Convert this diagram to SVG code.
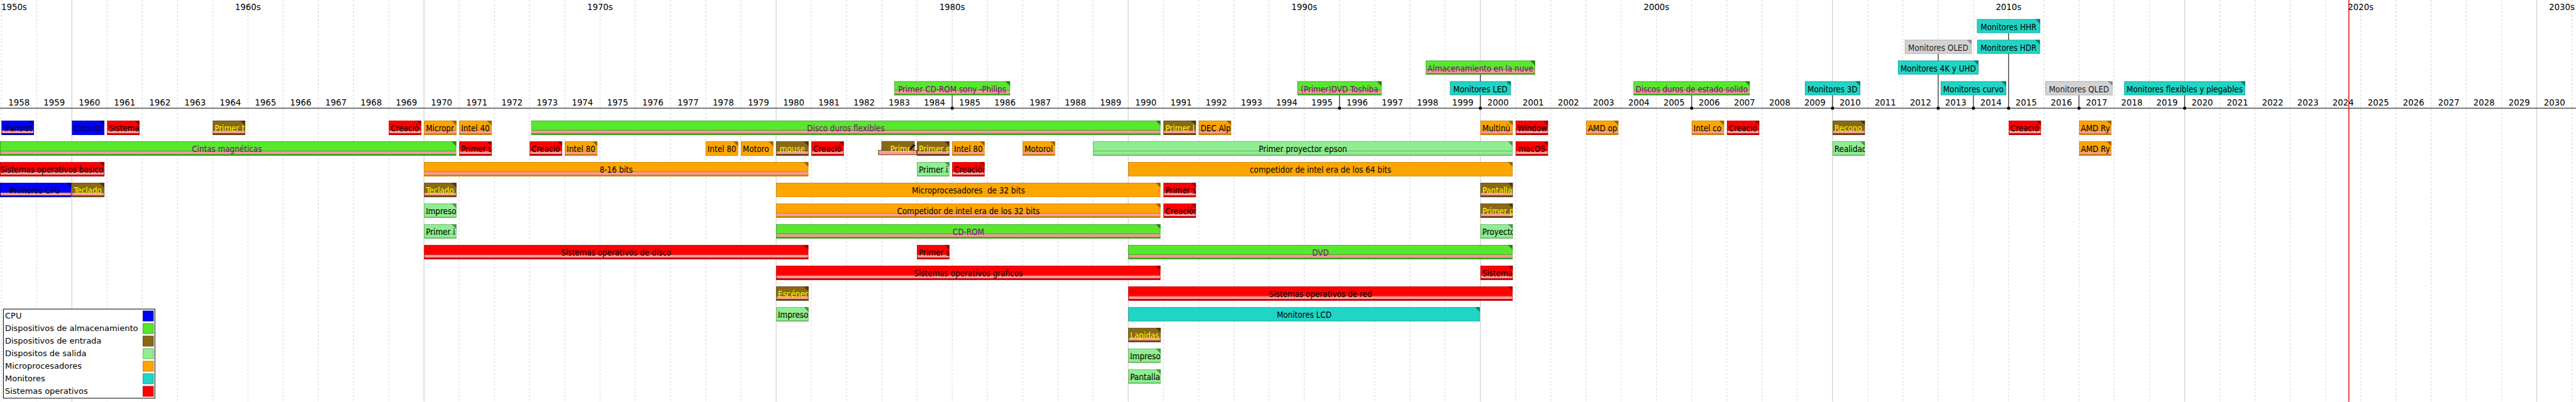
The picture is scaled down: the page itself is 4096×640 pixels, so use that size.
<svg xmlns="http://www.w3.org/2000/svg" xmlns:xlink="http://www.w3.org/1999/xlink" width="4096" height="640" viewBox="0 0 4096 640">
<style>
.cpu{--c:#0000ff;--d:#0000b0;--e:#000080;--t:#000}
.alm{--c:#57e82d;--d:#3aa322;--e:#2f7d1c;--t:#800080}
.ent{--c:#8b6914;--d:#5e4610;--e:#4a370a;--t:#ffff00}
.sal{--c:#90ee90;--d:#66b366;--e:#4f8f4f;--t:#000}
.mic{--c:#ffa500;--d:#c98200;--e:#9a6300;--t:#000}
.mon{--c:#20d5c5;--d:#15a093;--e:#0f7a70;--t:#000}
.gry{--c:#d3d3d3;--d:#a3a3a3;--e:#8a8a8a;--t:#222}
.sop{--c:#ff0000;--d:#c40000;--e:#990000;--t:#000}
.b{fill:var(--c);stroke:var(--d);stroke-width:1}
.p{fill:#ff9999}
.l{fill:none;stroke:var(--d);stroke-width:1}
.d{fill:var(--d)}
.e{fill:var(--e)}
.t{font-family:"DejaVu Sans Condensed","DejaVu Sans",sans-serif;font-size:13.33px;font-stretch:condensed;fill:var(--t)}
.m{text-anchor:middle}
.yr{font-family:"DejaVu Sans",sans-serif;font-size:13.33px;fill:#000;text-anchor:middle}
.dec{font-family:"DejaVu Sans",sans-serif;font-size:13.33px;fill:#000}
.lg{font-family:"DejaVu Sans",sans-serif;font-size:13px;fill:#000}
.minor{stroke:#d0d0d0;stroke-width:1;stroke-dasharray:3 3;fill:none}
.major{stroke:#c4c4c4;stroke-width:1;fill:none}
.cn{stroke:#000;stroke-width:1;fill:none}
.dot{fill:#000}
</style>
<defs>
<g id="u1"><rect class="b" x=".5" y=".5" width="50.7" height="22"/><rect class="p" x="1" y="15" width="49.7" height="5.3"/><path class="l" d="M1 15.5h49.7"/><rect class="d" y="20.3" width="51.7" height="2.7"/><path class="e" d="M43.7 0h8v8z"/></g>
<g id="u1n"><rect class="b" x=".5" y=".5" width="50.7" height="22"/><path class="e" d="M43.7 0h8v8z"/></g>
<g id="u1g"><rect class="b" x=".5" y=".5" width="50.7" height="22"/><path class="l" d="M1 15.5h49.7"/><rect class="d" y="21.3" width="51.7" height="1.7"/><path class="e" d="M43.7 0h8v8z"/></g>
</defs>
<g transform="scale(0.9995)">
<rect x="0" y="0" width="4098" height="640" fill="#fff"/>
<g id="grid">
<path class="minor" d="M2.26 0V640M58.28 0V640M170.32 0V640M226.34 0V640M282.36 0V640M338.38 0V640M394.4 0V640M450.42 0V640M506.44 0V640M562.46 0V640M618.48 0V640M730.52 0V640M786.54 0V640M842.56 0V640M898.58 0V640M954.6 0V640M1010.62 0V640M1066.64 0V640M1122.66 0V640M1178.68 0V640M1290.72 0V640M1346.74 0V640M1402.76 0V640M1458.78 0V640M1514.8 0V640M1570.82 0V640M1626.84 0V640M1682.86 0V640M1738.88 0V640M1850.92 0V640M1906.94 0V640M1962.96 0V640M2018.98 0V640M2075 0V640M2131.02 0V640M2187.04 0V640M2243.06 0V640M2299.08 0V640M2411.12 0V640M2467.14 0V640M2523.16 0V640M2579.18 0V640M2635.2 0V640M2691.22 0V640M2747.24 0V640M2803.26 0V640M2859.28 0V640M2971.32 0V640M3027.34 0V640M3083.36 0V640M3139.38 0V640M3195.4 0V640M3251.42 0V640M3307.44 0V640M3363.46 0V640M3419.48 0V640M3531.52 0V640M3587.54 0V640M3643.56 0V640M3699.58 0V640M3755.6 0V640M3811.62 0V640M3867.64 0V640M3923.66 0V640M3979.68 0V640M4091.72 0V640"/>
<path class="major" d="M114.3 0V640M674.5 0V640M1234.7 0V640M1794.9 0V640M2355.1 0V640M2915.3 0V640M3475.5 0V640M4035.7 0V640"/>
</g>
<g id="decades" class="dec">
<text x="2" y="16">1950s</text>
<text x="394.4" y="16" text-anchor="middle">1960s</text>
<text x="954.6" y="16" text-anchor="middle">1970s</text>
<text x="1514.8" y="16" text-anchor="middle">1980s</text>
<text x="2075" y="16" text-anchor="middle">1990s</text>
<text x="2635.2" y="16" text-anchor="middle">2000s</text>
<text x="3195.4" y="16" text-anchor="middle">2010s</text>
<text x="3755.6" y="16" text-anchor="middle">2020s</text>
<text x="4096" y="16" text-anchor="end">2030s</text>
</g>
<g id="years" class="yr">
<text x="30.27" y="167.7">1958</text><text x="86.29" y="167.7">1959</text><text x="142.31" y="167.7">1960</text><text x="198.33" y="167.7">1961</text><text x="254.35" y="167.7">1962</text><text x="310.37" y="167.7">1963</text><text x="366.39" y="167.7">1964</text><text x="422.41" y="167.7">1965</text><text x="478.43" y="167.7">1966</text><text x="534.45" y="167.7">1967</text><text x="590.47" y="167.7">1968</text><text x="646.49" y="167.7">1969</text>
<text x="702.51" y="167.7">1970</text><text x="758.53" y="167.7">1971</text><text x="814.55" y="167.7">1972</text><text x="870.57" y="167.7">1973</text><text x="926.59" y="167.7">1974</text><text x="982.61" y="167.7">1975</text><text x="1038.63" y="167.7">1976</text><text x="1094.65" y="167.7">1977</text><text x="1150.67" y="167.7">1978</text><text x="1206.69" y="167.7">1979</text>
<text x="1262.71" y="167.7">1980</text><text x="1318.73" y="167.7">1981</text><text x="1374.75" y="167.7">1982</text><text x="1430.77" y="167.7">1983</text><text x="1486.79" y="167.7">1984</text><text x="1542.81" y="167.7">1985</text><text x="1598.83" y="167.7">1986</text><text x="1654.85" y="167.7">1987</text><text x="1710.87" y="167.7">1988</text><text x="1766.89" y="167.7">1989</text>
<text x="1822.91" y="167.7">1990</text><text x="1878.93" y="167.7">1991</text><text x="1934.95" y="167.7">1992</text><text x="1990.97" y="167.7">1993</text><text x="2046.99" y="167.7">1994</text><text x="2103.01" y="167.7">1995</text><text x="2159.03" y="167.7">1996</text><text x="2215.05" y="167.7">1997</text><text x="2271.07" y="167.7">1998</text><text x="2327.09" y="167.7">1999</text>
<text x="2383.11" y="167.7">2000</text><text x="2439.13" y="167.7">2001</text><text x="2495.15" y="167.7">2002</text><text x="2551.17" y="167.7">2003</text><text x="2607.19" y="167.7">2004</text><text x="2663.21" y="167.7">2005</text><text x="2719.23" y="167.7">2006</text><text x="2775.25" y="167.7">2007</text><text x="2831.27" y="167.7">2008</text><text x="2887.29" y="167.7">2009</text>
<text x="2943.31" y="167.7">2010</text><text x="2999.33" y="167.7">2011</text><text x="3055.35" y="167.7">2012</text><text x="3111.37" y="167.7">2013</text><text x="3167.39" y="167.7">2014</text><text x="3223.41" y="167.7">2015</text><text x="3279.43" y="167.7">2016</text><text x="3335.45" y="167.7">2017</text><text x="3391.47" y="167.7">2018</text><text x="3447.49" y="167.7">2019</text>
<text x="3503.51" y="167.7">2020</text><text x="3559.53" y="167.7">2021</text><text x="3615.55" y="167.7">2022</text><text x="3671.57" y="167.7">2023</text><text x="3727.59" y="167.7">2024</text><text x="3783.61" y="167.7">2025</text><text x="3839.63" y="167.7">2026</text><text x="3895.65" y="167.7">2027</text><text x="3951.67" y="167.7">2028</text><text x="4007.69" y="167.7">2029</text><text x="4063.71" y="167.7">2030</text>
</g>
<path id="axis" d="M0 172.3H4098" stroke="#000" stroke-width="1"/>
<g id="connectors">
<path class="cn" d="M1514.8 151.8V172.3M2131 151.8V172.3M2355.1 118.8V172.3M2691.2 151.8V172.3M2915.3 151.8V172.3M3139.4 151.8V172.3M3307.4 151.8V172.3M3475.5 151.8V172.3M3083.4 85.8V172.3M3195.4 52.8V172.3"/>
<circle class="dot" cx="1514.8" cy="172.3" r="2.5"/><circle class="dot" cx="2131" cy="172.3" r="2.5"/><circle class="dot" cx="2355.1" cy="172.3" r="2.5"/><circle class="dot" cx="2691.2" cy="172.3" r="2.5"/><circle class="dot" cx="2915.3" cy="172.3" r="2.5"/><circle class="dot" cx="3139.4" cy="172.3" r="2.5"/><circle class="dot" cx="3307.4" cy="172.3" r="2.5"/><circle class="dot" cx="3475.5" cy="172.3" r="2.5"/><circle class="dot" cx="3083.4" cy="172.3" r="2.5"/><circle class="dot" cx="3195.4" cy="172.3" r="2.5"/>
</g>
<g id="boxes">
<g id="b-cdrom" class="alm"><svg x="1422.4" y="129.3" width="184.8" height="22.5"><rect class="b" x=".5" y=".5" width="183.8" height="21.5"/><rect class="p" x="1" y="14" width="182.8" height="6"/><path class="l" d="M1 14.5h182.8"/><rect class="d" y="20" width="184.8" height="2.5"/><path class="e" d="M176.8 0h8v8z"/><text class="t m" x="92.4" y="17.3">Primer CD-ROM sony -Philips</text></svg></g>
<g id="b-dvd" class="alm"><svg x="2064.05" y="129.3" width="133.9" height="22.5"><rect class="b" x=".5" y=".5" width="132.9" height="21.5"/><rect class="p" x="1" y="14" width="131.9" height="6"/><path class="l" d="M1 14.5h131.9"/><rect class="d" y="20" width="133.9" height="2.5"/><path class="e" d="M125.9 0h8v8z"/><text class="t m" x="66.95" y="17.3">(Primer)DVD Toshiba</text></svg></g>
<g id="b-nube" class="alm"><svg x="2268.1" y="96.3" width="174" height="22.5"><rect class="b" x=".5" y=".5" width="173" height="21.5"/><rect class="p" x="1" y="14" width="172" height="6"/><path class="l" d="M1 14.5h172"/><rect class="d" y="20" width="174" height="2.5"/><path class="e" d="M166 0h8v8z"/><text class="t m" x="87" y="17.3">Almacenamiento en la nuve</text></svg></g>
<g id="b-led" class="mon"><svg x="2306.45" y="129.3" width="97.3" height="22.5"><rect class="b" x=".5" y=".5" width="96.3" height="21.5"/><path class="e" d="M89.3 0h8v8z"/><text class="t m" x="48.65" y="17.3">Monitores LED</text></svg></g>
<g id="b-ssd" class="alm"><svg x="2598.55" y="129.3" width="185.3" height="22.5"><rect class="b" x=".5" y=".5" width="184.3" height="21.5"/><rect class="p" x="1" y="14" width="183.3" height="6"/><path class="l" d="M1 14.5h183.3"/><rect class="d" y="20" width="185.3" height="2.5"/><path class="e" d="M177.3 0h8v8z"/><text class="t m" x="92.65" y="17.3">Discos duros de estado solido</text></svg></g>
<g id="b-3d" class="mon"><svg x="2871.1" y="129.3" width="88.4" height="22.5"><rect class="b" x=".5" y=".5" width="87.4" height="21.5"/><path class="e" d="M80.4 0h8v8z"/><text class="t m" x="44.2" y="17.3">Monitores 3D</text></svg></g>
<g id="b-curvo" class="mon"><svg x="3087.15" y="129.3" width="104.5" height="22.5"><rect class="b" x=".5" y=".5" width="103.5" height="21.5"/><path class="e" d="M96.5 0h8v8z"/><text class="t m" x="52.25" y="17.3">Monitores curvo</text></svg></g>
<g id="b-qled" class="gry"><svg x="3253.75" y="129.3" width="107.3" height="22.5"><rect class="b" x=".5" y=".5" width="106.3" height="21.5"/><path class="e" d="M99.3 0h8v8z"/><text class="t m" x="53.65" y="17.3">Monitores QLED</text></svg></g>
<g id="b-flex" class="mon"><svg x="3379" y="129.3" width="193" height="22.5"><rect class="b" x=".5" y=".5" width="192" height="21.5"/><path class="e" d="M185 0h8v8z"/><text class="t m" x="96.5" y="17.3">Monitores flexibles y plegables</text></svg></g>
<g id="b-4k" class="mon"><svg x="3019.1" y="96.3" width="128.6" height="22.5"><rect class="b" x=".5" y=".5" width="127.6" height="21.5"/><path class="e" d="M120.6 0h8v8z"/><text class="t m" x="64.3" y="17.3">Monitores 4K y UHD</text></svg></g>
<g id="b-oled" class="gry"><svg x="3030.05" y="63.3" width="106.7" height="22.5"><rect class="b" x=".5" y=".5" width="105.7" height="21.5"/><path class="e" d="M98.7 0h8v8z"/><text class="t m" x="53.35" y="17.3">Monitores OLED</text></svg></g>
<g id="b-hdr" class="mon"><svg x="3145.4" y="63.3" width="100" height="22.5"><rect class="b" x=".5" y=".5" width="99" height="21.5"/><path class="e" d="M92 0h8v8z"/><text class="t m" x="50" y="17.3">Monitores HDR</text></svg></g>
<g id="b-hhr" class="mon"><svg x="3144.9" y="30.3" width="101" height="22.5"><rect class="b" x=".5" y=".5" width="100" height="21.5"/><path class="e" d="M93 0h8v8z"/><text class="t m" x="50.5" y="17.3">Monitores HHR</text></svg></g>
</g>
<g id="items">
<!-- row 1 -->
<g id="r1-1958" class="cpu"><svg x="2.26" y="192" width="51.7" height="23"><use href="#u1"/><text class="t" x="3" y="17.3">Transist</text></svg></g>
<g id="r1-1960" class="cpu"><svg x="114.3" y="192" width="51.7" height="23"><use href="#u1n"/><text class="t" x="3" y="17.3">Circuito</text></svg></g>
<g id="r1-1961" class="sop"><svg x="170.32" y="192" width="51.7" height="23"><use href="#u1"/><text class="t" x="3" y="17.3">Sistema</text></svg></g>
<g id="r1-1964" class="ent"><svg x="338.38" y="192" width="51.7" height="23"><use href="#u1"/><text class="t" x="3" y="17.3">Primer t</text></svg></g>
<g id="r1-1969" class="sop"><svg x="618.48" y="192" width="51.7" height="23"><use href="#u1"/><text class="t" x="3" y="17.3">Creació</text></svg></g>
<g id="r1-1970" class="mic"><svg x="674.5" y="192" width="51.7" height="23"><use href="#u1"/><text class="t" x="3" y="17.3">Micropr</text></svg></g>
<g id="r1-1971" class="mic"><svg x="730.52" y="192" width="51.7" height="23"><use href="#u1"/><text class="t" x="3" y="17.3">Intel 40</text></svg></g>
<g id="r1-disco" class="alm"><svg x="845" y="192" width="1001.4" height="23"><rect class="b" x=".5" y=".5" width="1000.4" height="22"/><rect class="p" x="1" y="15" width="999.4" height="5.3"/><path class="l" d="M1 15.5h999.4"/><rect class="d" y="20.3" width="1001.4" height="2.7"/><path class="e" d="M993.4 0h8v8z"/><text class="t m" x="500.7" y="17.3">Disco duros flexibles</text></svg></g>
<g id="r1-1991" class="ent"><svg x="1850.92" y="192" width="51.7" height="23"><use href="#u1"/><text class="t" x="3" y="17.3">Primer l</text></svg></g>
<g id="r1-1992" class="mic"><svg x="1906.94" y="192" width="51.7" height="23"><use href="#u1"/><text class="t" x="3" y="17.3">DEC Alp</text></svg></g>
<g id="r1-2000" class="mic"><svg x="2355.1" y="192" width="51.7" height="23"><use href="#u1"/><text class="t" x="3" y="17.3">Multinú</text></svg></g>
<g id="r1-2001" class="sop"><svg x="2411.12" y="192" width="51.7" height="23"><use href="#u1"/><text class="t" x="3" y="17.3">Window</text></svg></g>
<g id="r1-2003" class="mic"><svg x="2523.16" y="192" width="51.7" height="23"><use href="#u1"/><text class="t" x="3" y="17.3">AMD op</text></svg></g>
<g id="r1-2006" class="mic"><svg x="2691.22" y="192" width="51.7" height="23"><use href="#u1"/><text class="t" x="3" y="17.3">Intel co</text></svg></g>
<g id="r1-2007" class="sop"><svg x="2747.24" y="192" width="51.7" height="23"><use href="#u1"/><text class="t" x="3" y="17.3">Creació</text></svg></g>
<g id="r1-2010" class="ent"><svg x="2915.3" y="192" width="51.7" height="23"><use href="#u1"/><text class="t" x="3" y="17.3">Recono</text></svg></g>
<g id="r1-2015" class="sop"><svg x="3195.4" y="192" width="51.7" height="23"><use href="#u1"/><text class="t" x="3" y="17.3">Creació</text></svg></g>
<g id="r1-2017" class="mic"><svg x="3307.44" y="192" width="51.7" height="23"><use href="#u1"/><text class="t" x="3" y="17.3">AMD Ry</text></svg></g>
<!-- row 2 -->
<g id="r2-cintas" class="alm"><svg x="0" y="225" width="726" height="23"><rect class="b" x=".5" y=".5" width="725" height="22"/><rect class="p" x="1" y="15" width="724" height="5.3"/><path class="l" d="M1 15.5h724"/><rect class="d" y="20.3" width="726" height="2.7"/><path class="e" d="M718 0h8v8z"/><text class="t m" x="361" y="17.3">Cintas magnéticas</text></svg></g>
<g id="r2-1971" class="sop"><svg x="730.52" y="225" width="51.7" height="23"><use href="#u1"/><text class="t" x="3" y="17.3">Primer s</text></svg></g>
<g id="r2-1973" class="sop"><svg x="842.56" y="225" width="51.7" height="23"><use href="#u1"/><text class="t" x="3" y="17.3">Creació</text></svg></g>
<g id="r2-1974" class="mic"><svg x="898.58" y="225" width="51.7" height="23"><use href="#u1"/><text class="t" x="3" y="17.3">Intel 80</text></svg></g>
<g id="r2-1978" class="mic"><svg x="1122.66" y="225" width="51.7" height="23"><use href="#u1n"/><text class="t" x="3" y="17.3">Intel 80</text></svg></g>
<g id="r2-1979" class="mic"><svg x="1178.68" y="225" width="51.7" height="23"><use href="#u1n"/><text class="t" x="3" y="17.3">Motoro</text></svg></g>
<g id="r2-1980" class="ent"><svg x="1234.7" y="225" width="51.7" height="23"><use href="#u1"/><text class="t m" x="25.85" y="17.3">mouse</text></svg></g>
<g id="r2-1981" class="sop"><svg x="1290.72" y="225" width="51.7" height="23"><use href="#u1"/><text class="t" x="3" y="17.3">Creació</text></svg></g>
<g id="r2-1983" class="ent"><rect class="b" x="1402.8" y="225.3" width="51.7" height="14.5"/><rect class="p" x="1397.5" y="239.5" width="61" height="7" stroke="#5e4610" stroke-width="1"/><svg x="1402.8" y="225" width="46" height="23"><text class="t" x="13.5" y="17.3">Prime</text></svg><path d="M1446.5 237.5c1.5-3.5 4.5-6 8.5-7l1.5 1.6c-3.2 1.2-5.6 3.4-7 6.6z" fill="#111"/><path d="M1452 229.5l3 3" stroke="#111" stroke-width="1.2"/></g>
<g id="r2-1984" class="ent"><svg x="1458.78" y="225" width="51.7" height="23"><use href="#u1"/><text class="t" x="3" y="17.3">Primer e</text></svg></g>
<g id="r2-1985" class="mic"><svg x="1514.8" y="225" width="51.7" height="23"><use href="#u1"/><text class="t" x="3" y="17.3">Intel 80</text></svg></g>
<g id="r2-1987" class="mic"><svg x="1626.84" y="225" width="51.7" height="23"><use href="#u1"/><text class="t" x="3" y="17.3">Motorol</text></svg></g>
<g id="r2-proyector" class="sal"><svg x="1738.9" y="225" width="667.7" height="23"><rect class="b" x=".5" y=".5" width="666.7" height="22"/><path class="l" d="M1 15.5h665.7"/><rect class="d" y="21.3" width="667.7" height="1.7"/><path class="e" d="M659.7 0h8v8z"/><text class="t m" x="333.85" y="17.3">Primer proyector epson</text></svg></g>
<g id="r2-2001" class="sop"><svg x="2411.12" y="225" width="51.7" height="23"><use href="#u1"/><text class="t m" x="25.85" y="17.3">macOS</text></svg></g>
<g id="r2-2010" class="sal"><svg x="2915.3" y="225" width="51.7" height="23"><use href="#u1g"/><text class="t" x="3" y="17.3">Realidad</text></svg></g>
<g id="r2-2017" class="mic"><svg x="3307.44" y="225" width="51.7" height="23"><use href="#u1"/><text class="t" x="3" y="17.3">AMD Ry</text></svg></g>
<!-- row 3 -->
<g id="r3-sobasicos" class="sop"><svg x="0" y="258" width="166" height="23"><rect class="b" x=".5" y=".5" width="165" height="22"/><rect class="p" x="1" y="15" width="164" height="5.3"/><path class="l" d="M1 15.5h164"/><rect class="d" y="20.3" width="166" height="2.7"/><path class="e" d="M158 0h8v8z"/><text class="t" x="0.5" y="17.3">Sistemas operativos basicos</text></svg></g>
<g id="r3-816" class="mic"><svg x="674.5" y="258" width="611.7" height="23"><rect class="b" x=".5" y=".5" width="610.7" height="22"/><rect class="p" x="1" y="15" width="609.7" height="5.3"/><path class="l" d="M1 15.5h609.7"/><rect class="d" y="20.3" width="611.7" height="2.7"/><path class="e" d="M603.7 0h8v8z"/><text class="t m" x="305.85" y="17.3">8-16 bits</text></svg></g>
<g id="r3-1984" class="sal"><svg x="1458.78" y="258" width="51.7" height="23"><use href="#u1g"/><text class="t" x="3" y="17.3">Primer i</text></svg></g>
<g id="r3-1985" class="sop"><svg x="1514.8" y="258" width="51.7" height="23"><use href="#u1"/><text class="t" x="3" y="17.3">Creación</text></svg></g>
<g id="r3-comp64" class="mic"><svg x="1794.9" y="258" width="611.7" height="23"><rect class="b" x=".5" y=".5" width="610.7" height="22"/><path class="e" d="M603.7 0h8v8z"/><text class="t m" x="305.85" y="17.3">competidor de intel era de los 64 bits</text></svg></g>
<!-- row 4 -->
<g id="r4-cpu" class="cpu"><svg x="0" y="291" width="113.8" height="23"><rect class="b" x=".5" y=".5" width="112.8" height="22"/><rect class="p" x="1" y="15" width="111.8" height="5.3"/><path class="l" d="M1 15.5h111.8"/><rect class="d" y="20.3" width="113.8" height="2.7"/><path class="e" d="M105.8 0h8v8z"/><text class="t m" x="55.5" y="17.3">Primeros CPU</text></svg></g>
<g id="r4-1960" class="ent"><svg x="114.3" y="291" width="51.7" height="23"><use href="#u1"/><text class="t" x="3" y="17.3">Teclado</text></svg></g>
<g id="r4-1970" class="ent"><svg x="674.5" y="291" width="51.7" height="23"><use href="#u1"/><text class="t" x="3" y="17.3">Teclado</text></svg></g>
<g id="r4-micro32" class="mic"><svg x="1234.7" y="291" width="611.7" height="23"><rect class="b" x=".5" y=".5" width="610.7" height="22"/><path class="e" d="M603.7 0h8v8z"/><text class="t m" x="305.85" y="17.3" style="white-space:pre">Microprocesadores  de 32 bits</text></svg></g>
<g id="r4-1991" class="sop"><svg x="1850.92" y="291" width="51.7" height="23"><use href="#u1"/><text class="t" x="3" y="17.3">Primer s</text></svg></g>
<g id="r4-2000" class="ent"><svg x="2355.1" y="291" width="51.7" height="23"><use href="#u1"/><text class="t" x="3" y="17.3">Pantalla</text></svg></g>
<!-- row 5 -->
<g id="r5-1970" class="sal"><svg x="674.5" y="324" width="51.7" height="23"><use href="#u1g"/><text class="t" x="3" y="17.3">Impreso</text></svg></g>
<g id="r5-comp32" class="mic"><svg x="1234.7" y="324" width="611.7" height="23"><rect class="b" x=".5" y=".5" width="610.7" height="22"/><rect class="p" x="1" y="15" width="609.7" height="5.3"/><path class="l" d="M1 15.5h609.7"/><rect class="d" y="20.3" width="611.7" height="2.7"/><path class="e" d="M603.7 0h8v8z"/><text class="t m" x="305.85" y="17.3">Competidor de intel era de los 32 bits</text></svg></g>
<g id="r5-1991" class="sop"><svg x="1850.92" y="324" width="51.7" height="23"><use href="#u1"/><text class="t" x="3" y="17.3">Creación</text></svg></g>
<g id="r5-2000" class="ent"><svg x="2355.1" y="324" width="51.7" height="23"><use href="#u1"/><text class="t" x="3" y="17.3">Primer p</text></svg></g>
<!-- row 6 -->
<g id="r6-1970" class="sal"><svg x="674.5" y="357" width="51.7" height="23"><use href="#u1g"/><text class="t" x="3" y="17.3">Primer i</text></svg></g>
<g id="r6-cdrom" class="alm"><svg x="1234.7" y="357" width="611.7" height="23"><rect class="b" x=".5" y=".5" width="610.7" height="22"/><rect class="p" x="1" y="15" width="609.7" height="5.3"/><path class="l" d="M1 15.5h609.7"/><rect class="d" y="20.3" width="611.7" height="2.7"/><path class="e" d="M603.7 0h8v8z"/><text class="t m" x="305.85" y="17.3">CD-ROM</text></svg></g>
<g id="r6-2000" class="sal"><svg x="2355.1" y="357" width="51.7" height="23"><use href="#u1g"/><text class="t" x="3" y="17.3">Proyecto</text></svg></g>
<!-- row 7 -->
<g id="r7-sodisco" class="sop"><svg x="674.5" y="390" width="611.7" height="23"><rect class="b" x=".5" y=".5" width="610.7" height="22"/><rect class="p" x="1" y="15" width="609.7" height="5.3"/><path class="l" d="M1 15.5h609.7"/><rect class="d" y="20.3" width="611.7" height="2.7"/><path class="e" d="M603.7 0h8v8z"/><text class="t m" x="305.85" y="17.3">Sistemas operativos de disco</text></svg></g>
<g id="r7-1984" class="sop"><svg x="1458.78" y="390" width="51.7" height="23"><use href="#u1"/><text class="t" x="3" y="17.3">Primer s</text></svg></g>
<g id="r7-dvd" class="alm"><svg x="1794.9" y="390" width="611.7" height="23"><rect class="b" x=".5" y=".5" width="610.7" height="22"/><rect class="p" x="1" y="15" width="609.7" height="5.3"/><path class="l" d="M1 15.5h609.7"/><rect class="d" y="20.3" width="611.7" height="2.7"/><path class="e" d="M603.7 0h8v8z"/><text class="t m" x="305.85" y="17.3">DVD</text></svg></g>
<!-- row 8 -->
<g id="r8-sograf" class="sop"><svg x="1234.7" y="423" width="611.7" height="23"><rect class="b" x=".5" y=".5" width="610.7" height="22"/><rect class="p" x="1" y="15" width="609.7" height="5.3"/><path class="l" d="M1 15.5h609.7"/><rect class="d" y="20.3" width="611.7" height="2.7"/><path class="e" d="M603.7 0h8v8z"/><text class="t m" x="305.85" y="17.3">Sistemas operativos graficos</text></svg></g>
<g id="r8-2000" class="sop"><svg x="2355.1" y="423" width="51.7" height="23"><use href="#u1"/><text class="t" x="3" y="17.3">Sistema</text></svg></g>
<!-- row 9 -->
<g id="r9-1980" class="ent"><svg x="1234.7" y="456" width="51.7" height="23"><use href="#u1"/><text class="t" x="3" y="17.3">Escéner</text></svg></g>
<g id="r9-sored" class="sop"><svg x="1794.9" y="456" width="611.7" height="23"><rect class="b" x=".5" y=".5" width="610.7" height="22"/><rect class="p" x="1" y="15" width="609.7" height="5.3"/><path class="l" d="M1 15.5h609.7"/><rect class="d" y="20.3" width="611.7" height="2.7"/><path class="e" d="M603.7 0h8v8z"/><text class="t m" x="305.85" y="17.3">Sistemas operativos de red</text></svg></g>
<!-- row 10 -->
<g id="r10-1980" class="sal"><svg x="1234.7" y="489" width="51.7" height="23"><use href="#u1g"/><text class="t" x="3" y="17.3">Impreso</text></svg></g>
<g id="r10-lcd" class="mon"><svg x="1794.9" y="489" width="559.6" height="23"><rect class="b" x=".5" y=".5" width="558.6" height="22"/><path class="e" d="M551.6 0h8v8z"/><text class="t m" x="279.8" y="17.3">Monitores LCD</text></svg></g>
<!-- rows 11-13 -->
<g id="r11-1990" class="ent"><svg x="1794.9" y="522" width="51.7" height="23"><use href="#u1"/><text class="t" x="3" y="17.3">Lapidas</text></svg></g>
<g id="r12-1990" class="sal"><svg x="1794.9" y="555" width="51.7" height="23"><use href="#u1g"/><text class="t" x="3" y="17.3">Impreso</text></svg></g>
<g id="r13-1990" class="sal"><svg x="1794.9" y="588" width="51.7" height="23"><use href="#u1g"/><text class="t" x="3" y="17.3">Pantalla</text></svg></g>
</g>
<g id="legend">
<rect x="5.4" y="492.3" width="241" height="142" fill="#fff" stroke="#000" stroke-width="1"/>
<g class="lg">
<text x="8" y="507.3">CPU</text>
<text x="8" y="527.3">Dispositivos de almacenamiento</text>
<text x="8" y="547.3">Dispositivos de entrada</text>
<text x="8" y="567.3">Dispositos de salida</text>
<text x="8" y="587.3">Microprocesadores</text>
<text x="8" y="607.3">Monitores</text>
<text x="8" y="627.3">Sistemas operativos</text>
</g>
<rect class="b cpu" x="227.5" y="495.3" width="16.5" height="16"/>
<rect class="b alm" x="227.5" y="515.3" width="16.5" height="16"/>
<rect class="b ent" x="227.5" y="535.3" width="16.5" height="16"/>
<rect class="b sal" x="227.5" y="555.3" width="16.5" height="16"/>
<rect class="b mic" x="227.5" y="575.3" width="16.5" height="16"/>
<rect class="b mon" x="227.5" y="595.3" width="16.5" height="16"/>
<rect class="b sop" x="227.5" y="615.3" width="16.5" height="16"/>
</g>
<path id="today" d="M3736.7 0V640" stroke="#d40000" stroke-width="1.4"/>
</g>
</svg>
